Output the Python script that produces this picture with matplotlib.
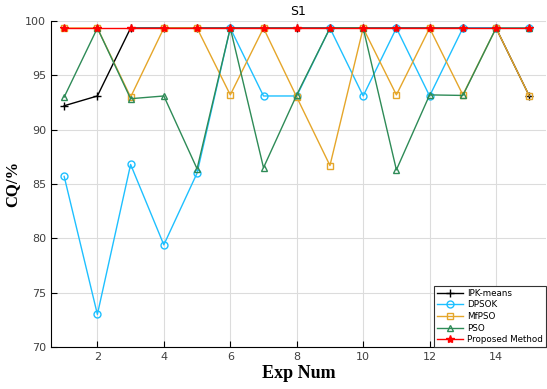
import matplotlib
matplotlib.use('Agg')
import matplotlib.pyplot as plt

# Experiment numbers and CQ (%) for each method
exp_num = list(range(1, 16))
ipk_means = [92.2, 93.1, 99.35, 99.35, 99.35, 99.35, 99.35, 99.35, 99.35, 99.35, 99.35, 99.35, 99.35, 99.35, 93.1]
dpsok = [85.7, 73.0, 86.8, 79.4, 86.0, 99.35, 93.1, 93.1, 99.35, 93.1, 99.35, 93.1, 99.35, 99.35, 99.35]
mfpso = [99.35, 99.35, 93.0, 99.35, 99.35, 93.2, 99.35, 93.0, 86.7, 99.35, 93.2, 99.35, 93.2, 99.35, 93.1]
pso = [93.0, 99.35, 92.85, 93.1, 86.4, 99.35, 86.5, 93.2, 99.35, 99.35, 86.3, 93.2, 93.15, 99.35, 99.35]
proposed = [99.35] * 15

fig = plt.figure(figsize=(5.47, 3.89), dpi=100)
ax = fig.add_axes([0.093, 0.108, 0.905, 0.838])

ax.plot(exp_num, ipk_means, color='black', marker='+', ms=6, lw=1, label='IPK-means')
ax.plot(exp_num, dpsok, color='#1ec0ff', marker='o', ms=5, mfc='none', lw=1, label='DPSOK')
ax.plot(exp_num, mfpso, color='#e5a62a', marker='s', ms=5, mfc='none', lw=1, label='MfPSO')
ax.plot(exp_num, pso, color='#2e8b57', marker='^', ms=5, mfc='none', lw=1, label='PSO')
ax.plot(exp_num, proposed, color='red', marker='*', ms=6, lw=1, label='Proposed Method')

ax.set_xlim(0.6, 15.5)
ax.set_ylim(70, 100)
ax.set_xticks(range(2, 15, 2))
ax.set_yticks(range(70, 101, 5))
ax.grid(True, color='#dcdcdc', lw=0.8)
ax.set_axisbelow(True)
ax.spines['top'].set_visible(False)
ax.spines['right'].set_visible(False)
ax.tick_params(direction='in', labelsize=8, labelcolor='#404040', length=4)

ax.set_title('S1', fontsize=9, pad=4)
ax.set_xlabel('Exp Num', fontsize=13, fontweight='bold', family='Liberation Serif', labelpad=2)
ax.set_ylabel('CQ/%', fontsize=12, fontweight='bold', family='Liberation Serif', labelpad=3)

leg = ax.legend(loc='lower right', fontsize=6.3, fancybox=False, framealpha=1,
                edgecolor='#333333', borderpad=0.3, labelspacing=0.3, handlelength=3.0,
                handletextpad=0.5, borderaxespad=0.0)
leg.get_frame().set_linewidth(0.8)

fig.savefig('out.png', dpi=100)
